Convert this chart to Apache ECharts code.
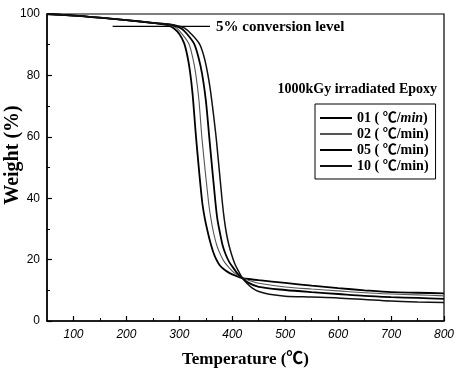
<!DOCTYPE html>
<html>
<head>
<meta charset="utf-8">
<script src="https://cdn.jsdelivr.net/npm/echarts@6/dist/echarts.min.js"></script>
<style>
  html, body { margin: 0; padding: 0; background: #fff; }
  #chart { width: 457px; height: 376px; }
</style>
</head>
<body>
<div id="chart"></div>
<script>
// TGA curves of 1000 kGy irradiated epoxy at four heating rates: [temperature (℃), weight (%)]
const seriesNames = ['01', '02', '05', '10'];

const rate01 = [[50,100],[100,99.5],[150,98.8],[200,98],[250,97.1],[270,96.6],[280,96.2],[290,95.3],[300,93.5],[309,90.5],[315,86.5],[320,81.5],[325,74],[332,59],[343,39],[348,33.5],[353,29.5],[358,26],[364,22.5],[370,20],[377,18],[386,16.6],[395,15.6],[407,14.7],[419,14],[435,13.6],[450,13.3],[500,12.4],[550,11.5],[600,10.7],[650,10],[700,9.4],[750,9.2],[800,9]];
const rate02 = [[50,100],[100,99.5],[150,98.8],[200,98],[250,97.1],[275,96.6],[285,96.2],[295,95.4],[305,93.5],[318,90.3],[325,86],[331,80.5],[337,72],[343,59],[355,39],[360,33],[365,28.5],[371,24.5],[378,21.5],[386,19],[395,17.2],[405,15.5],[419,14],[435,13],[450,12.3],[500,11.1],[550,10.4],[600,9.8],[650,9.2],[700,8.8],[750,8.5],[800,8.2]];
const rate05 = [[50,100],[100,99.5],[150,98.8],[200,98],[250,97.1],[280,96.6],[292,96.1],[305,95.1],[315,93.4],[328,90.3],[336,86],[343,80.5],[350,72],[357,59],[368,39],[372,33],[377,28.5],[382,24.5],[388,21.5],[395,19],[402,17.3],[410,15.4],[419,14],[430,12.5],[450,11.1],[500,10.1],[550,9.4],[600,8.8],[650,8.2],[700,7.8],[750,7.5],[800,7.2]];
const rate10 = [[50,100],[100,99.5],[150,98.8],[200,98],[250,97.1],[285,96.6],[298,96.1],[310,95.4],[322,93.6],[338,90.3],[346,86.5],[352,82],[358,76],[364,68],[370,59],[381,39],[385,33],[389,28.5],[394,24.5],[399,21.5],[404,19],[410,16.8],[419,14],[428,12.2],[438,10.7],[450,9.6],[470,8.7],[500,8.1],[550,7.8],[600,7.5],[650,7],[700,6.5],[750,6.2],[800,6]];

// 5 % conversion reference line
const conversionLine = [[174,96],[358,96]];

const xMajorTicks = [100,200,300,400,500,600,700,800];
const xMinorTicks = [150,250,350,450,550,650,750];

const serif = '"Liberation Serif", "Noto Sans CJK SC", serif';
const sans = '"Liberation Sans", Arial, sans-serif';

const chart = echarts.init(document.getElementById('chart'), null, { renderer: 'canvas' });

const curveStyles = [
  { color: '#000', width: 1.8 },
  { color: '#555', width: 1.1 },
  { color: '#000', width: 1.8 },
  { color: '#111', width: 1.5 }
];
const curves = [rate01, rate02, rate05, rate10];

const series = curves.map((d, i) => ({
  name: seriesNames[i],
  type: 'line',
  data: d,
  symbol: 'none',
  smooth: 0.3,
  lineStyle: { color: curveStyles[i].color, width: curveStyles[i].width },
  itemStyle: { color: curveStyles[i].color },
  z: 3
}));

series.push({
  name: 'conversion',
  type: 'line',
  data: conversionLine,
  symbol: 'none',
  lineStyle: { color: '#000', width: 1.2 },
  silent: true,
  z: 2
});

chart.setOption({
  animation: false,
  backgroundColor: '#fff',
  grid: {
    left: 47, right: 13, top: 14, bottom: 55,
    containLabel: false,
    outerBoundsMode: 'none',
    show: true, borderColor: '#000', borderWidth: 1.2, backgroundColor: 'transparent'
  },
  xAxis: [{
    type: 'value',
    min: 50, max: 800,
    name: 'Temperature (℃)',
    nameLocation: 'middle',
    nameGap: 30,
    nameTextStyle: { fontFamily: serif, fontWeight: 'bold', fontSize: 17, color: '#000' },
    axisLine: { show: true, onZero: false, lineStyle: { color: '#000', width: 1.5 } },
    axisTick: { show: true, inside: true, length: 5, customValues: xMajorTicks, lineStyle: { color: '#000', width: 1.2 } },
    axisLabel: { customValues: xMajorTicks, fontFamily: sans, fontStyle: 'italic', fontSize: 12, color: '#000', margin: 8 },
    splitLine: { show: false }
  }, {
    type: 'value',
    min: 50, max: 800,
    position: 'bottom',
    axisLine: { show: false },
    axisTick: { show: true, inside: true, length: 3, customValues: xMinorTicks, lineStyle: { color: '#000', width: 1 } },
    axisLabel: { show: false },
    splitLine: { show: false }
  }],
  yAxis: {
    type: 'value',
    min: 0, max: 100, interval: 20,
    axisLine: { show: true, onZero: false, lineStyle: { color: '#000', width: 1.5 } },
    axisTick: { show: true, inside: true, length: 5, lineStyle: { color: '#000', width: 1.2 } },
    minorTick: { show: true, splitNumber: 2, length: 3, lineStyle: { color: '#000', width: 1 } },
    axisLabel: { fontFamily: sans, fontSize: 12, color: '#000', margin: 7 },
    splitLine: { show: false }
  },
  legend: {
    data: seriesNames,
    orient: 'vertical',
    left: 315,
    top: 104,
    padding: [7, 7, 6, 5],
    itemGap: 2,
    itemWidth: 32,
    itemHeight: 2,
    icon: 'rect',
    borderColor: '#000',
    borderWidth: 1,
    backgroundColor: '#fff',
    formatter: function (name) {
      return name === '01'
        ? name + ' ( ℃/{i|min})'
        : name + ' ( ℃/min)';
    },
    textStyle: {
      fontFamily: serif, fontWeight: 'bold', fontSize: 14, color: '#000',
      rich: { i: { fontFamily: serif, fontWeight: 'bold', fontStyle: 'italic', fontSize: 14, color: '#000' } }
    }
  },
  graphic: [
    {
      type: 'text',
      x: 13, y: 155,
      rotation: Math.PI / 2,
      style: { text: 'Weight (%)', font: 'bold 20px ' + serif, fill: '#000', align: 'center', verticalAlign: 'middle' }
    },
    {
      type: 'text',
      right: 20, top: 82,
      style: { text: '1000kGy irradiated Epoxy', font: 'bold 14px ' + serif, fill: '#000' }
    },
    {
      type: 'text',
      left: 216, top: 20,
      style: { text: '5% conversion level', font: 'bold 15px ' + serif, fill: '#000' }
    }
  ],
  series: series
});
</script>
</body>
</html>
